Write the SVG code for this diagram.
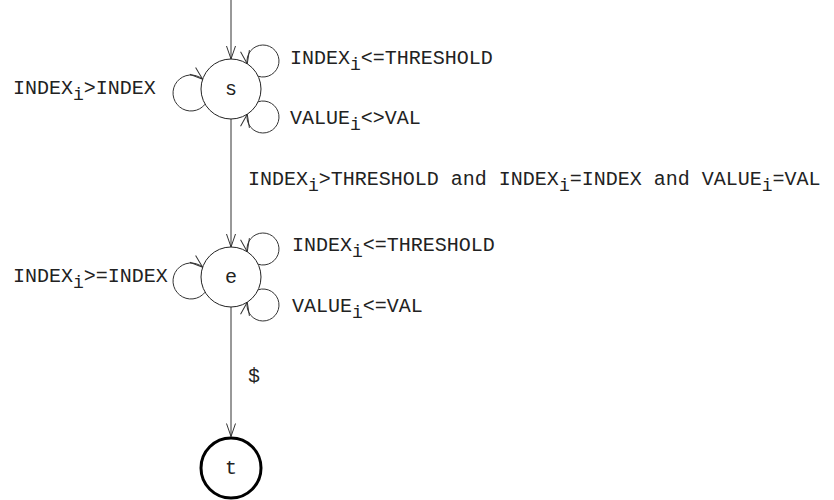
<svg xmlns="http://www.w3.org/2000/svg" width="834" height="500" viewBox="0 0 834 500">
<style>
text{font-family:"Liberation Mono","DejaVu Sans Mono",monospace;font-size:20px;fill:#222}
.sub{font-size:18px}
.c{text-anchor:middle}
.edge{fill:none;stroke:#333;stroke-width:1}
.node{fill:#fff;stroke:#222;stroke-width:1}
.final{fill:#fff;stroke:#000;stroke-width:3}
</style>
<defs>
<marker id="arr" markerWidth="16" markerHeight="12" refX="0" refY="0" viewBox="-14 -6 16 12" orient="auto" markerUnits="userSpaceOnUse">
<path d="M-13,-4.5 L0,0 L-13,4.5" fill="none" stroke="#333" stroke-width="1"/>
</marker>
</defs>
<g id="connectors">
<path class="edge" d="M231,0 L231,59" marker-end="url(#arr)"/>
<path class="edge" d="M258.16,76.25 A16,16 0 1 0 247.24,63.77" marker-end="url(#arr)"/>
<path class="edge" d="M258.16,101.75 A16,16 0 1 1 247.24,114.23" marker-end="url(#arr)"/>
<path class="edge" d="M205.13,104.17 A18,18 0 1 1 202.63,79.25" marker-end="url(#arr)"/>
<path class="edge" d="M231,119 L231,247" marker-end="url(#arr)"/>
<path class="edge" d="M258.16,264.25 A16,16 0 1 0 247.24,251.77" marker-end="url(#arr)"/>
<path class="edge" d="M258.16,289.75 A16,16 0 1 1 247.24,302.23" marker-end="url(#arr)"/>
<path class="edge" d="M205.13,292.17 A18,18 0 1 1 202.63,267.25" marker-end="url(#arr)"/>
<path class="edge" d="M231,307 L231,436.5" marker-end="url(#arr)"/>
</g>
<g id="labels">
<text x="290" y="64">INDEX<tspan class="sub" dy="6">i</tspan><tspan dy="-6">&lt;=THRESHOLD</tspan></text>
<text x="290" y="124">VALUE<tspan class="sub" dy="6">i</tspan><tspan dy="-6">&lt;&gt;VAL</tspan></text>
<text x="13" y="94">INDEX<tspan class="sub" dy="6">i</tspan><tspan dy="-6">&gt;INDEX</tspan></text>
<text x="248" y="185">INDEX<tspan class="sub" dy="6">i</tspan><tspan dy="-6">&gt;THRESHOLD and INDEX</tspan><tspan class="sub" dy="6">i</tspan><tspan dy="-6">=INDEX and VALUE</tspan><tspan class="sub" dy="6">i</tspan><tspan dy="-6">=VAL</tspan></text>
<text x="292" y="251">INDEX<tspan class="sub" dy="6">i</tspan><tspan dy="-6">&lt;=THRESHOLD</tspan></text>
<text x="292" y="312">VALUE<tspan class="sub" dy="6">i</tspan><tspan dy="-6">&lt;=VAL</tspan></text>
<text x="13" y="282">INDEX<tspan class="sub" dy="6">i</tspan><tspan dy="-6">&gt;=INDEX</tspan></text>
<text x="248" y="382">$</text>
</g>
<g id="node-s">
<circle class="node" cx="231" cy="89" r="30"/>
<text class="c" x="231" y="95">s</text>
</g>
<g id="node-e">
<circle class="node" cx="231" cy="277" r="30"/>
<text class="c" x="231" y="283">e</text>
</g>
<g id="node-t">
<circle class="final" cx="231" cy="468" r="30"/>
<text class="c" x="231" y="474">t</text>
</g>
</svg>
